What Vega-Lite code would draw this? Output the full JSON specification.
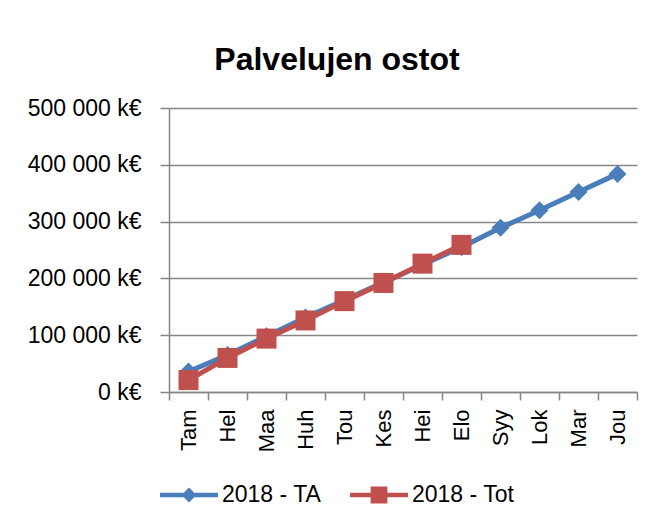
{
  "$schema": "https://vega.github.io/schema/vega-lite/v6.json",
  "width": 468,
  "height": 284,
  "autosize": {"type": "none"},
  "padding": {"left": 169, "top": 108, "right": 25, "bottom": 137},
  "background": "white",
  "config": {
    "font": "Liberation Sans",
    "view": {"stroke": null},
    "locale": {"number": {"decimal": ",", "thousands": " ", "grouping": [3], "currency": ["", "€"]}}
  },
  "title": {
    "text": "Palvelujen ostot",
    "fontSize": 32,
    "fontWeight": "bold",
    "color": "black",
    "anchor": "middle",
    "dx": -66,
    "baseline": "alphabetic",
    "offset": -5
  },
  "data": {
    "values": [
      {"month": "Tam", "series": "2018 - TA", "value": 36000},
      {"month": "Hel", "series": "2018 - TA", "value": 65000},
      {"month": "Maa", "series": "2018 - TA", "value": 98000},
      {"month": "Huh", "series": "2018 - TA", "value": 131000},
      {"month": "Tou", "series": "2018 - TA", "value": 162000},
      {"month": "Kes", "series": "2018 - TA", "value": 193000},
      {"month": "Hei", "series": "2018 - TA", "value": 224000},
      {"month": "Elo", "series": "2018 - TA", "value": 255000},
      {"month": "Syy", "series": "2018 - TA", "value": 289000},
      {"month": "Lok", "series": "2018 - TA", "value": 320000},
      {"month": "Mar", "series": "2018 - TA", "value": 352000},
      {"month": "Jou", "series": "2018 - TA", "value": 384000},
      {"month": "Tam", "series": "2018 - Tot", "value": 21000},
      {"month": "Hel", "series": "2018 - Tot", "value": 60000},
      {"month": "Maa", "series": "2018 - Tot", "value": 94000},
      {"month": "Huh", "series": "2018 - Tot", "value": 126000},
      {"month": "Tou", "series": "2018 - Tot", "value": 160000},
      {"month": "Kes", "series": "2018 - Tot", "value": 192000},
      {"month": "Hei", "series": "2018 - Tot", "value": 226000},
      {"month": "Elo", "series": "2018 - Tot", "value": 259000}
    ]
  },
  "encoding": {
    "x": {
      "field": "month",
      "type": "nominal",
      "sort": ["Tam", "Hel", "Maa", "Huh", "Tou", "Kes", "Hei", "Elo", "Syy", "Lok", "Mar", "Jou"],
      "scale": {"type": "band", "paddingInner": 0, "paddingOuter": 0},
      "bandPosition": 0.5,
      "axis": {
        "title": null,
        "labelAngle": -90,
        "labelFontSize": 22,
        "labelColor": "black",
        "labelPadding": 9,
        "tickBand": "extent",
        "tickSize": 8,
        "tickColor": "#868686",
        "tickWidth": 1.5,
        "domainColor": "#868686",
        "domainWidth": 1.5,
        "grid": false
      }
    },
    "y": {
      "field": "value",
      "type": "quantitative",
      "scale": {"domain": [0, 500000], "nice": false},
      "axis": {
        "title": null,
        "values": [0, 100000, 200000, 300000, 400000, 500000],
        "format": ",d",
        "labelExpr": "datum.label + ' k€'",
        "labelFontSize": 23,
        "labelColor": "black",
        "labelPadding": 19,
        "tickSize": 9,
        "tickColor": "#868686",
        "tickWidth": 1.5,
        "domainColor": "#868686",
        "domainWidth": 1.5,
        "grid": true,
        "gridColor": "#868686",
        "gridWidth": 1.5
      }
    },
    "color": {
      "field": "series",
      "type": "nominal",
      "scale": {"domain": ["2018 - TA", "2018 - Tot"], "range": ["#4A7EBB", "#C0504D"]},
      "legend": {
        "title": null,
        "orient": "none",
        "direction": "horizontal",
        "legendX": -9,
        "legendY": 358,
        "padding": 0,
        "labelFontSize": 23,
        "labelColor": "black",
        "labelOffset": 4,
        "columnPadding": 28,
        "symbolSize": 3364,
        "symbolType": "M-1,-0.08L1,-0.08L1,0.08L-1,0.08Z",
        "symbolStrokeWidth": 0,
        "encode": {
          "symbols": {
            "enter": {
              "shape": {"signal": "datum.value === '2018 - TA' ? 'M-1,-0.08L1,-0.08L1,0.08L-1,0.08Z M0,-0.26L0.26,0L0,0.26L-0.26,0Z' : 'M-1,-0.08L1,-0.08L1,0.08L-1,0.08Z M-0.29,-0.29L0.29,-0.29L0.29,0.29L-0.29,0.29Z'"}
            },
            "update": {
              "shape": {"signal": "datum.value === '2018 - TA' ? 'M-1,-0.08L1,-0.08L1,0.08L-1,0.08Z M0,-0.26L0.26,0L0,0.26L-0.26,0Z' : 'M-1,-0.08L1,-0.08L1,0.08L-1,0.08Z M-0.29,-0.29L0.29,-0.29L0.29,0.29L-0.29,0.29Z'"},
              "size": {"value": 3364},
              "strokeWidth": {"value": 0}
            }
          }
        }
      }
    }
  },
  "layer": [
    {
      "mark": {"type": "line", "strokeWidth": 5, "strokeCap": "round", "strokeJoin": "round"}
    },
    {
      "transform": [{"filter": "datum.series === '2018 - TA'"}],
      "mark": {"type": "point", "filled": true, "opacity": 1, "shape": "diamond", "size": 324}
    },
    {
      "transform": [{"filter": "datum.series === '2018 - Tot'"}],
      "mark": {"type": "point", "filled": true, "opacity": 1, "shape": "square", "size": 400}
    }
  ]
}
